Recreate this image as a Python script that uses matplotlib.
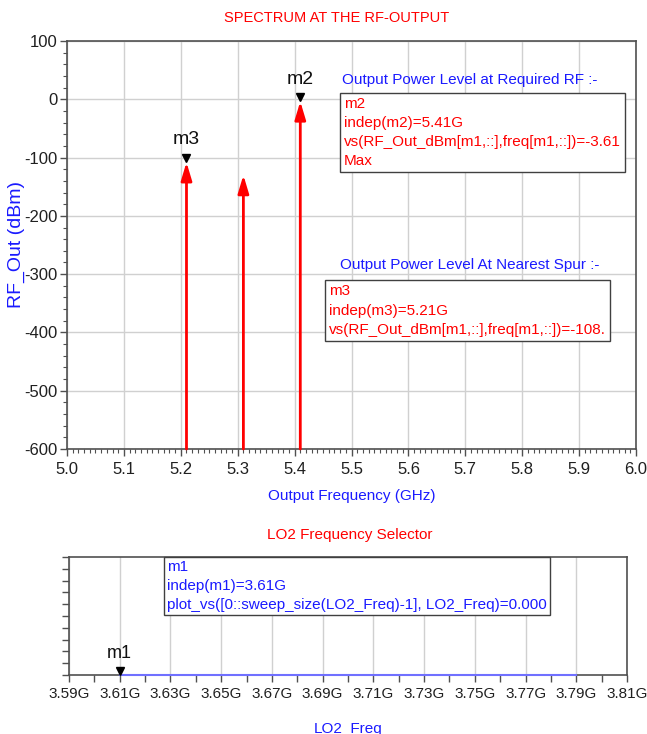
# -*- coding: utf-8 -*-

import matplotlib
matplotlib.use('Agg')
import matplotlib.pyplot as plt
import matplotlib.transforms as mtransforms
from matplotlib import font_manager
from matplotlib.ticker import MultipleLocator, FixedLocator, FormatStrFormatter

names = set(f.name for f in font_manager.fontManager.ttflist)
narrow = 'Liberation Sans Narrow' if 'Liberation Sans Narrow' in names else 'Liberation Sans'
plt.rcParams['font.family'] = [narrow, 'DejaVu Sans']
plt.rcParams['axes.unicode_minus'] = False

# spectrum at the RF output
tone_freq = [5.21, 5.31, 5.41]        # GHz
tone_power = [-108.0, -130.0, -3.61]  # dBm
floor_power = -600.0

m2_freq, m2_power = 5.41, -3.61
m3_freq, m3_power = 5.21, -108.0

# LO2 sweep (marker selector)
lo2_freq = [3.61, 3.62, 3.63, 3.64, 3.65, 3.66, 3.67, 3.68, 3.69, 3.70,
            3.71, 3.72, 3.73, 3.74, 3.75, 3.76, 3.77, 3.78, 3.79]
lo2_index = [0.0, 0.0, 0.0, 0.0, 0.0, 0.0, 0.0, 0.0, 0.0, 0.0,
             0.0, 0.0, 0.0, 0.0, 0.0, 0.0, 0.0, 0.0, 0.0]
lo2_ticks = [3.59, 3.61, 3.63, 3.65, 3.67, 3.69, 3.71, 3.73, 3.75, 3.77, 3.79, 3.81]
lo2_labels = ['%.2fG' % v for v in lo2_ticks]
m1_freq = 3.61

RED = '#ff0000'
BLUE = '#1a1aff'
FRAME = '#505050'
GRID = '#d0d0d0'
FS = 11  # text size (regular width font standing in for a narrow one)

W, H = 647, 734
fig = plt.figure(figsize=(W / 100.0, H / 100.0), dpi=100)

# main spectrum axes (pixel box 67..636 x 41..449)
ax = fig.add_axes([67.0 / W, 1 - 449.0 / H, 569.0 / W, 408.0 / H])
ax.set_xlim(5.0, 6.0)
ax.set_ylim(-600, 100)
ax.xaxis.set_major_locator(MultipleLocator(0.1))
ax.xaxis.set_minor_locator(MultipleLocator(0.01))
ax.yaxis.set_major_locator(MultipleLocator(100))
ax.yaxis.set_minor_locator(MultipleLocator(20))
ax.xaxis.set_major_formatter(FormatStrFormatter('%.1f'))
ax.grid(True, which='major', color=GRID, lw=1.0)
ax.set_axisbelow(True)
for s in ax.spines.values():
    s.set_color(FRAME)
    s.set_linewidth(1.2)
ax.tick_params(which='major', length=5, width=1, color=FRAME, labelsize=12, labelcolor='#202020', pad=2)
ax.tick_params(which='minor', length=3, width=0.8, color=FRAME)
ax.tick_params(axis='x', which='major', pad=4)

# spectral lines drawn as arrows from the floor up to the tone power
for f, p in zip(tone_freq, tone_power):
    ax.annotate('', xy=(f, p), xytext=(f, floor_power),
                arrowprops=dict(arrowstyle='-|>,head_length=1.2,head_width=0.36',
                                color=RED, lw=2, shrinkA=0, shrinkB=0,
                                mutation_scale=9))

# markers
up = mtransforms.offset_copy(ax.transData, fig=fig, x=0, y=4, units='dots')
for name, f, p in [('m2', m2_freq, m2_power), ('m3', m3_freq, m3_power)]:
    ax.plot([f], [p], marker='v', color='black', ms=6, transform=up, clip_on=False)
    ax.annotate(name, xy=(f, p), xytext=(0, 10), textcoords='offset points',
                ha='center', va='bottom', fontsize=14, color='#101010')

ax.set_xlabel('Output Frequency (GHz)', color=BLUE, fontsize=FS)
ax.xaxis.set_label_coords(0.5, (449 - 489.0) / 408)
ax.set_ylabel('RF_Out (dBm)', color=BLUE, fontsize=14)
ax.yaxis.set_label_coords((25 - 67.0) / 569, 0.5)

def px(xp, yp):
    return (xp - 67.0) / 569, (449.0 - yp) / 408

x, y = px(342, 80)
ax.text(x, y, 'Output Power Level at Required RF :-', transform=ax.transAxes,
        color=BLUE, fontsize=FS, ha='left', va='center')
x, y = px(344, 97)
ax.text(x, y, 'm2\nindep(m2)=5.41G\nvs(RF_Out_dBm[m1,::],freq[m1,::])=-3.61\nMax',
        transform=ax.transAxes, color=RED, fontsize=FS, ha='left', va='top',
        linespacing=1.45,
        bbox=dict(boxstyle='square,pad=0.25', fc='white', ec='#404040', lw=1))
x, y = px(340, 265)
ax.text(x, y, 'Output Power Level At Nearest Spur :-', transform=ax.transAxes,
        color=BLUE, fontsize=FS, ha='left', va='center')
x, y = px(329, 284)
ax.text(x, y, 'm3\nindep(m3)=5.21G\nvs(RF_Out_dBm[m1,::],freq[m1,::])=-108.',
        transform=ax.transAxes, color=RED, fontsize=FS, ha='left', va='top',
        linespacing=1.5,
        bbox=dict(boxstyle='square,pad=0.25', fc='white', ec='#404040', lw=1))

fig.text(337.0 / W, 1 - 18.0 / H, 'SPECTRUM AT THE RF-OUTPUT', color=RED,
         fontsize=10.5, ha='center', va='center')

# LO2 selector axes (pixel box 69..627 x 557..675)
ax2 = fig.add_axes([69.0 / W, 1 - 675.0 / H, 558.0 / W, 118.0 / H])
ax2.plot(lo2_freq, lo2_index, color='#7070ff', lw=1.5, clip_on=False, zorder=3)
ax2.set_xlim(3.59, 3.81)
ax2.set_ylim(0, 10)
ax2.xaxis.set_major_locator(FixedLocator(lo2_ticks))
ax2.set_xticklabels(lo2_labels)
ax2.xaxis.set_minor_locator(MultipleLocator(0.01))
ax2.yaxis.set_major_locator(MultipleLocator(1))
ax2.set_yticklabels([])
ax2.grid(True, axis='x', which='major', color=GRID, lw=1.0)
ax2.set_axisbelow(True)
for s in ax2.spines.values():
    s.set_color(FRAME)
    s.set_linewidth(1.2)
ax2.tick_params(which='both', length=5, width=1, color=FRAME, labelsize=11, labelcolor='#202020', pad=4)

up2 = mtransforms.offset_copy(ax2.transData, fig=fig, x=0, y=4, units='dots')
ax2.plot([m1_freq], [0], marker='v', color='black', ms=6, transform=up2, clip_on=False, zorder=4)
ax2.annotate('m1', xy=(m1_freq, 0), xytext=(0, 9), textcoords='offset points',
             ha='center', va='bottom', fontsize=13, color='#101010')

ax2.text((167 - 69.0) / 558, (675 - 560.0) / 118,
         'm1\nindep(m1)=3.61G\nplot_vs([0::sweep_size(LO2_Freq)-1], LO2_Freq)=0.000',
         transform=ax2.transAxes, color=BLUE, fontsize=FS, ha='left', va='top',
         linespacing=1.45,
         bbox=dict(boxstyle='square,pad=0.2', fc='white', ec='#404040', lw=1))

ax2.set_xlabel('LO2_Freq', color=BLUE, fontsize=FS)
ax2.xaxis.set_label_coords(0.5, (675 - 722.0) / 118)

fig.text(350.0 / W, 1 - 535.0 / H, 'LO2 Frequency Selector', color=RED,
         fontsize=11, ha='center', va='center')

fig.savefig('out.png', dpi=100)
